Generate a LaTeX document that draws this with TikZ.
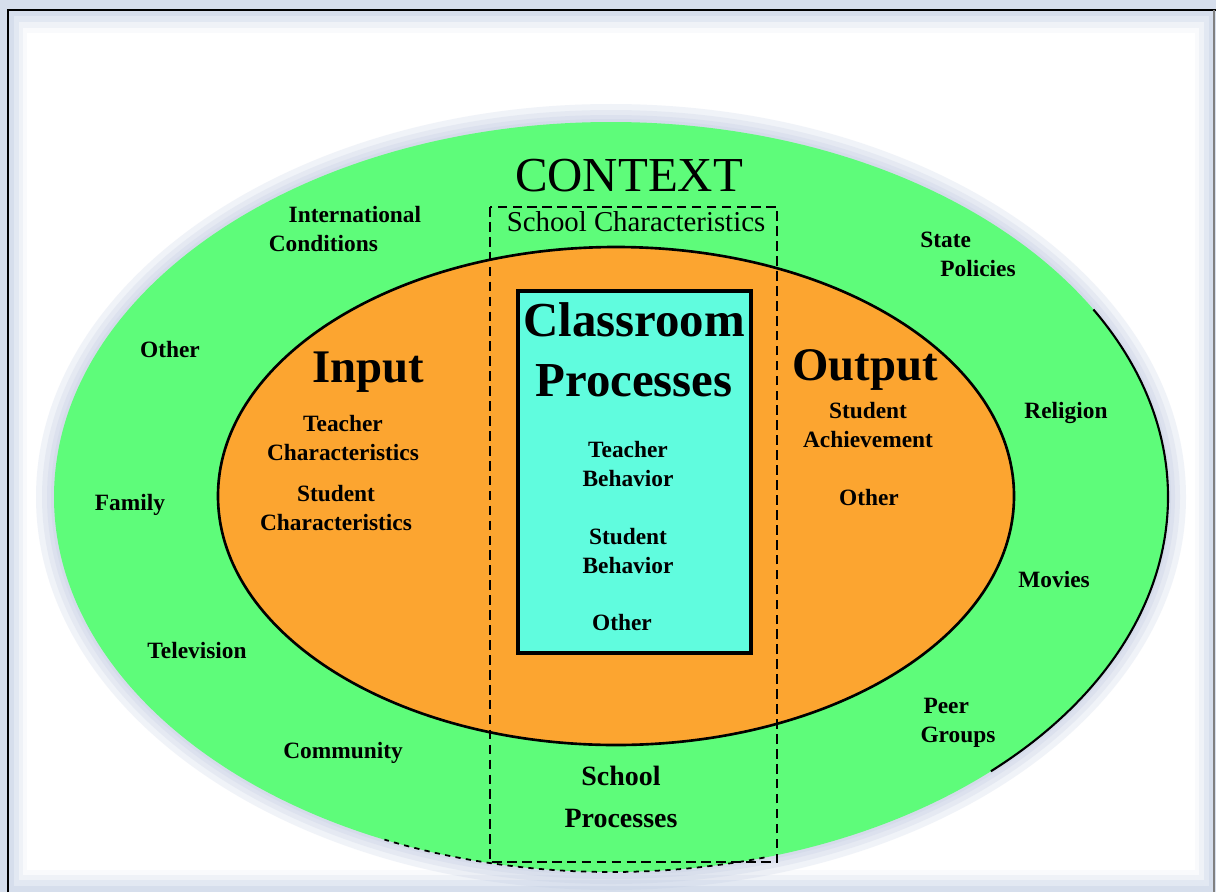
\documentclass[tikz,border=0pt]{standalone}
\usepackage{fontspec}
\setmainfont{Liberation Serif}

\definecolor{ctxgreen}{RGB}{94,252,122}
\definecolor{ioorange}{RGB}{252,165,48}
\definecolor{clscyan}{RGB}{96,252,222}
\definecolor{glowblue}{RGB}{190,201,224}
\definecolor{edgeblue}{RGB}{214,222,236}

\begin{document}
\begin{tikzpicture}[x=0.02cm, y=-0.02cm,
  lbl/.style={font=\bfseries\fontsize{13.3}{16.4}\selectfont, align=center, inner sep=0pt},
  head/.style={font=\bfseries\fontsize{26.6}{30}\selectfont, inner sep=0pt},
  glow/.style={fill=glowblue, opacity=.22}]
\useasboundingbox (0,0) rectangle (1216,892);

% frame
\fill[edgeblue] (0,0) rectangle (1216,892);
\fill[edgeblue!70!white] (14,16) rectangle (1209,886);
\fill[edgeblue!40!white] (19,22) rectangle (1204,880);
\fill[edgeblue!15!white] (23,28) rectangle (1199,875);
\fill[white] (27,33) rectangle (1195,870);
\draw[line width=1.6pt] (8,892) -- (8,10) -- (1216,10);
\draw[gray, line width=1pt] (1214,10) -- (1214,892);

% context ellipse with its halo
\fill[glow] (611,497) ellipse [x radius=575, y radius=393];
\fill[glow] (611,497) ellipse [x radius=569, y radius=387];
\fill[glow] (611,497) ellipse [x radius=564, y radius=382];
\fill[glow] (611,497) ellipse [x radius=560, y radius=378];
\fill[ctxgreen] (611,497) ellipse [x radius=557, y radius=375];
\draw[line width=1.2pt] (611,497) ++(-30:557 and 375) arc[start angle=-30, end angle=47, x radius=557, y radius=375];
\draw[dashed, line width=1pt] (611,497) ++(74:557 and 375) arc[start angle=74, end angle=114, x radius=557, y radius=375];

% input / output ellipse
\filldraw[fill=ioorange, line width=1.5pt] (616,496) ellipse [x radius=398, y radius=249];

% school box and classroom box
\draw[dashed, dash pattern=on 5.5pt off 3pt, line width=0.9pt] (490,207) rectangle (777,862);
\filldraw[fill=clscyan, line width=2pt] (518,291) rectangle (751,653);

\node[font=\fontsize{27.8}{30}\selectfont, inner sep=0pt] (ctx) at (629,176) {CONTEXT};
\node[font=\fontsize{16.4}{18}\selectfont, inner sep=0pt] (schchar) at (636,222) {School Characteristics};

% outer labels
\node[lbl, align=left] (intl) at (345,229) {\hspace*{11.3pt}International\\Conditions};
\node[lbl, align=left] (state) at (968,254) {State\\\hspace*{11.3pt}Policies};
\node[lbl] (oth0) at (170,350) {Other};
\node[lbl] (fam) at (130,505) {Family};
\node[lbl] (tv) at (197,650) {Television};
\node[lbl] (comm) at (343,753) {Community};
\node[lbl] (relig) at (1066,413) {Religion};
\node[lbl] (movie) at (1054,579) {Movies};
\node[lbl, align=left] (peer) at (958,723) {\hspace*{1.7pt}Peer\\Groups};

% input side
\node[head] (inp) at (368,372) {Input};
\node[lbl] (tchar) at (343,438) {Teacher\\Characteristics};
\node[lbl] (schar) at (336,508) {Student\\Characteristics};

% output side
\node[head] (outp) at (865,370) {Output};
\node[lbl] (sach) at (868,425) {Student\\Achievement};
\node[lbl] (oth1) at (869,497) {Other};

% classroom
\node[font=\bfseries\fontsize{27.8}{34}\selectfont, align=center, inner sep=0pt] (cls) at (634,350) {Classroom\\Processes};
\node[lbl] (tbeh) at (628,464) {Teacher\\Behavior};
\node[lbl] (sbeh) at (628,551) {Student\\Behavior};
\node[lbl] (oth2) at (622,622) {Other};

\node[font=\bfseries\fontsize{15.9}{23.8}\selectfont, align=center, inner sep=0pt] (schproc) at (621,797) {School\\Processes};

\end{tikzpicture}
\end{document}
